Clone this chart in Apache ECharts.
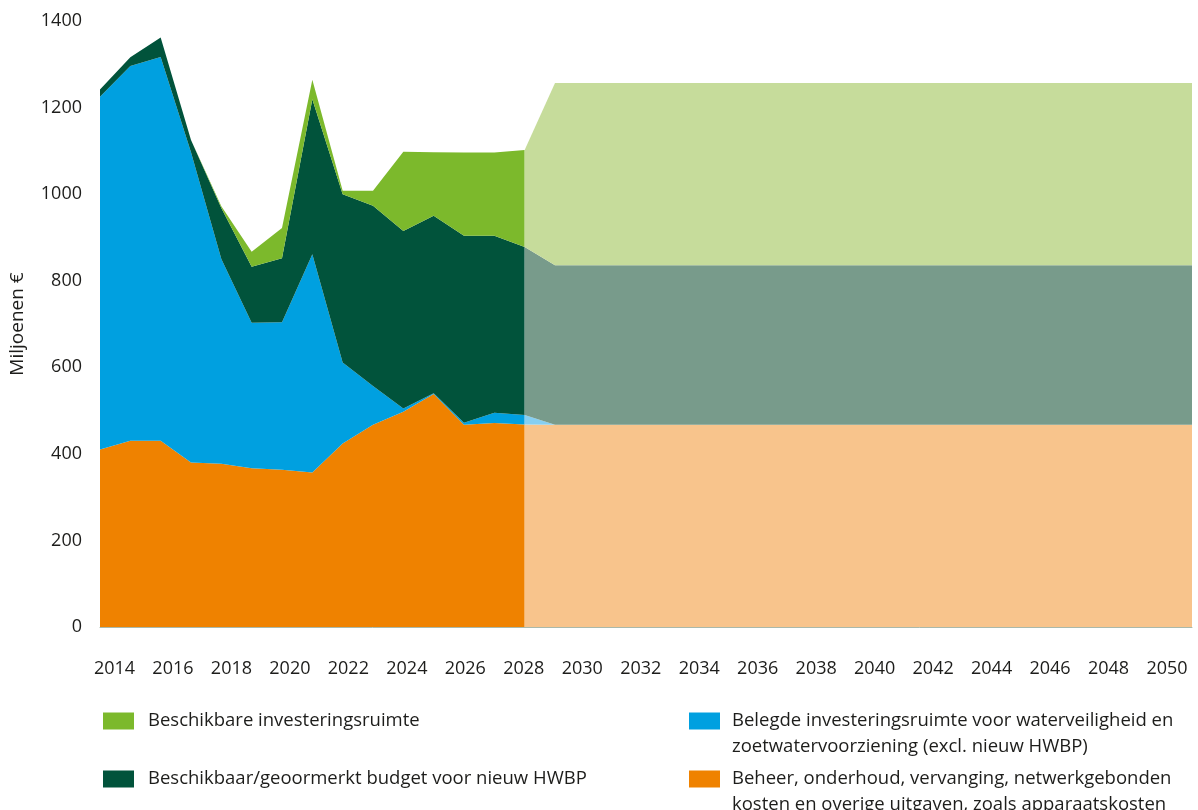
<!DOCTYPE html>
<html>
<head>
<meta charset="utf-8">
<script src="https://cdn.jsdelivr.net/npm/echarts@6/dist/echarts.min.js"></script>
<style>
  html, body { margin: 0; padding: 0; background: #ffffff; }
  #chart { width: 1198px; height: 810px; }
</style>
</head>
<body>
<div id="chart"></div>
<script>
// Jaren op de x-as (één categorie per jaar)
const years = ['2014','2015','2016','2017','2018','2019','2020','2021','2022','2023','2024','2025',
  '2026','2027','2028','2029','2030','2031','2032','2033','2034','2035','2036','2037','2038','2039',
  '2040','2041','2042','2043','2044','2045','2046','2047','2048','2049','2050'];
// Getoonde jaartallen onder de as
const tickYears = [2014, 2016, 2018, 2020, 2022, 2024, 2026, 2028, 2030, 2032, 2034, 2036, 2038,
  2040, 2042, 2044, 2046, 2048, 2050];
const yTicks = [0, 200, 400, 600, 800, 1000, 1200, 1400];

// Realisatie en raming 2014–2028 (miljoenen euro, per categorie)
const histBeheer = [410, 430, 430, 380, 377, 367, 363, 357, 424, 467, 497, 538, 467, 471, 468];
const histBelegd = [815, 866, 887, 717, 473, 336, 341, 504, 187, 90, 8, 2, 5, 24, 22];
const histHwbp   = [17, 20, 45, 28, 118, 129, 148, 358, 389, 416, 410, 410, 432, 409, 388];
const histRuimte = [0, 0, 0, 0, 4, 35, 70, 45, 8, 35, 183, 147, 192, 192, 224];

// Doorkijk 2028–2050
const projBeheer = [468, 467, 467, 467, 467, 467, 467, 467, 467, 467, 467, 467, 467, 467, 467, 467,
  467, 467, 467, 467, 467, 467, 467];
const projBelegd = [22, 0, 0, 0, 0, 0, 0, 0, 0, 0, 0, 0, 0, 0, 0, 0, 0, 0, 0, 0, 0, 0, 0];
const projHwbp   = [388, 369, 369, 369, 369, 369, 369, 369, 369, 369, 369, 369, 369, 369, 369, 369,
  369, 369, 369, 369, 369, 369, 369];
const projRuimte = [224, 421, 421, 421, 421, 421, 421, 421, 421, 421, 421, 421, 421, 421, 421, 421,
  421, 421, 421, 421, 421, 421, 421];

const nRuimte = 'Beschikbare investeringsruimte';
const nHwbp = 'Beschikbaar/geoormerkt budget voor nieuw HWBP';
const nBelegd = 'Belegde investeringsruimte voor waterveiligheid en zoetwatervoorziening (excl. nieuw HWBP)';
const nBeheer = 'Beheer, onderhoud, vervanging, netwerkgebonden kosten en overige uitgaven, zoals apparaatskosten';

// Tweeregelige legendateksten; de lege eerste regel houdt het vlakje naast de eerste tekstregel
const legendLines = {};
legendLines[nBelegd] = '\nBelegde investeringsruimte voor waterveiligheid en\nzoetwatervoorziening (excl. nieuw HWBP)';
legendLines[nBeheer] = '\nBeheer, onderhoud, vervanging, netwerkgebonden\nkosten en overige uitgaven, zoals apparaatskosten';

const colors = {
  ruimte: '#7cb92c', hwbp: '#01533b', belegd: '#00a0e0', beheer: '#ef8200'
};
const paleColors = {
  ruimte: '#c6dc9b', hwbp: '#789b8b', belegd: '#86cff2', beheer: '#f8c48c'
};

const histStart = years.indexOf('2028');
function histData(vals) {
  return vals.concat(new Array(years.length - vals.length).fill('-'));
}
function projData(vals) {
  return new Array(histStart).fill('-').concat(vals);
}

function areaSeries(name, values, color, stack, pad) {
  return {
    name: name,
    type: 'line',
    stack: stack,
    data: pad(values),
    xAxisIndex: 0,
    yAxisIndex: 0,
    showSymbol: false,
    symbol: 'none',
    lineStyle: { width: 0, color: color },
    itemStyle: { color: color },
    areaStyle: { color: color, opacity: 1 },
    emphasis: { disabled: true },
    silent: true,
    animation: false
  };
}

const font = 'Open Sans';
const textColor = '#1d1d1b';

function legendItem(name, left, top, gap) {
  return {
    data: [name],
    left: left,
    top: top,
    orient: 'vertical',
    padding: 0,
    icon: 'rect',
    itemWidth: 31,
    itemHeight: 17,
    selectedMode: false,
    formatter: function (n) { return legendLines[n] || n; },
    textStyle: {
      fontFamily: font,
      fontSize: 18.5,
      color: textColor,
      lineHeight: 26,
      padding: [0, 0, 0, gap]
    }
  };
}

const chart = echarts.init(document.getElementById('chart'), null, { renderer: 'canvas' });

chart.setOption({
  animation: false,
  backgroundColor: '#ffffff',
  grid: { left: 98, right: 6, top: 21, bottom: 183, containLabel: false },
  xAxis: [
    {
      type: 'category',
      data: years,
      boundaryGap: false,
      axisLine: { show: true, lineStyle: { color: '#a9b9ab', width: 1 } },
      axisTick: { show: false },
      axisLabel: { show: false },
      splitLine: { show: false }
    },
    {
      type: 'value',
      min: 2013.505,
      max: 2050.854,
      position: 'bottom',
      axisLine: { show: false },
      axisTick: { show: false },
      splitLine: { show: false },
      axisLabel: {
        customValues: tickYears,
        formatter: function (v) { return String(v); },
        fontFamily: font,
        fontSize: 18,
        color: textColor,
        margin: 33
      }
    }
  ],
  yAxis: {
    type: 'value',
    min: 0,
    max: 1400,
    interval: 200,
    name: 'Miljoenen €',
    nameLocation: 'middle',
    nameGap: 73,
    nameTextStyle: { fontFamily: font, fontSize: 19, color: textColor },
    axisLine: { show: false },
    axisTick: { show: false },
    splitLine: { show: false },
    axisLabel: {
      customValues: yTicks,
      formatter: function (v) { return String(v); },
      fontFamily: font,
      fontSize: 18,
      color: textColor,
      margin: 18
    }
  },
  legend: [
    legendItem(nRuimte, 103, 708, 9),
    legendItem(nHwbp, 103, 766, 9),
    legendItem(nBelegd, 689, 682, 7),
    legendItem(nBeheer, 689, 740, 7)
  ],
  series: [
    areaSeries(nBeheer, histBeheer, colors.beheer, 'hist', histData),
    areaSeries(nBelegd, histBelegd, colors.belegd, 'hist', histData),
    areaSeries(nHwbp, histHwbp, colors.hwbp, 'hist', histData),
    areaSeries(nRuimte, histRuimte, colors.ruimte, 'hist', histData),
    areaSeries(nBeheer, projBeheer, paleColors.beheer, 'proj', projData),
    areaSeries(nBelegd, projBelegd, paleColors.belegd, 'proj', projData),
    areaSeries(nHwbp, projHwbp, paleColors.hwbp, 'proj', projData),
    areaSeries(nRuimte, projRuimte, paleColors.ruimte, 'proj', projData)
  ]
});
</script>
</body>
</html>
